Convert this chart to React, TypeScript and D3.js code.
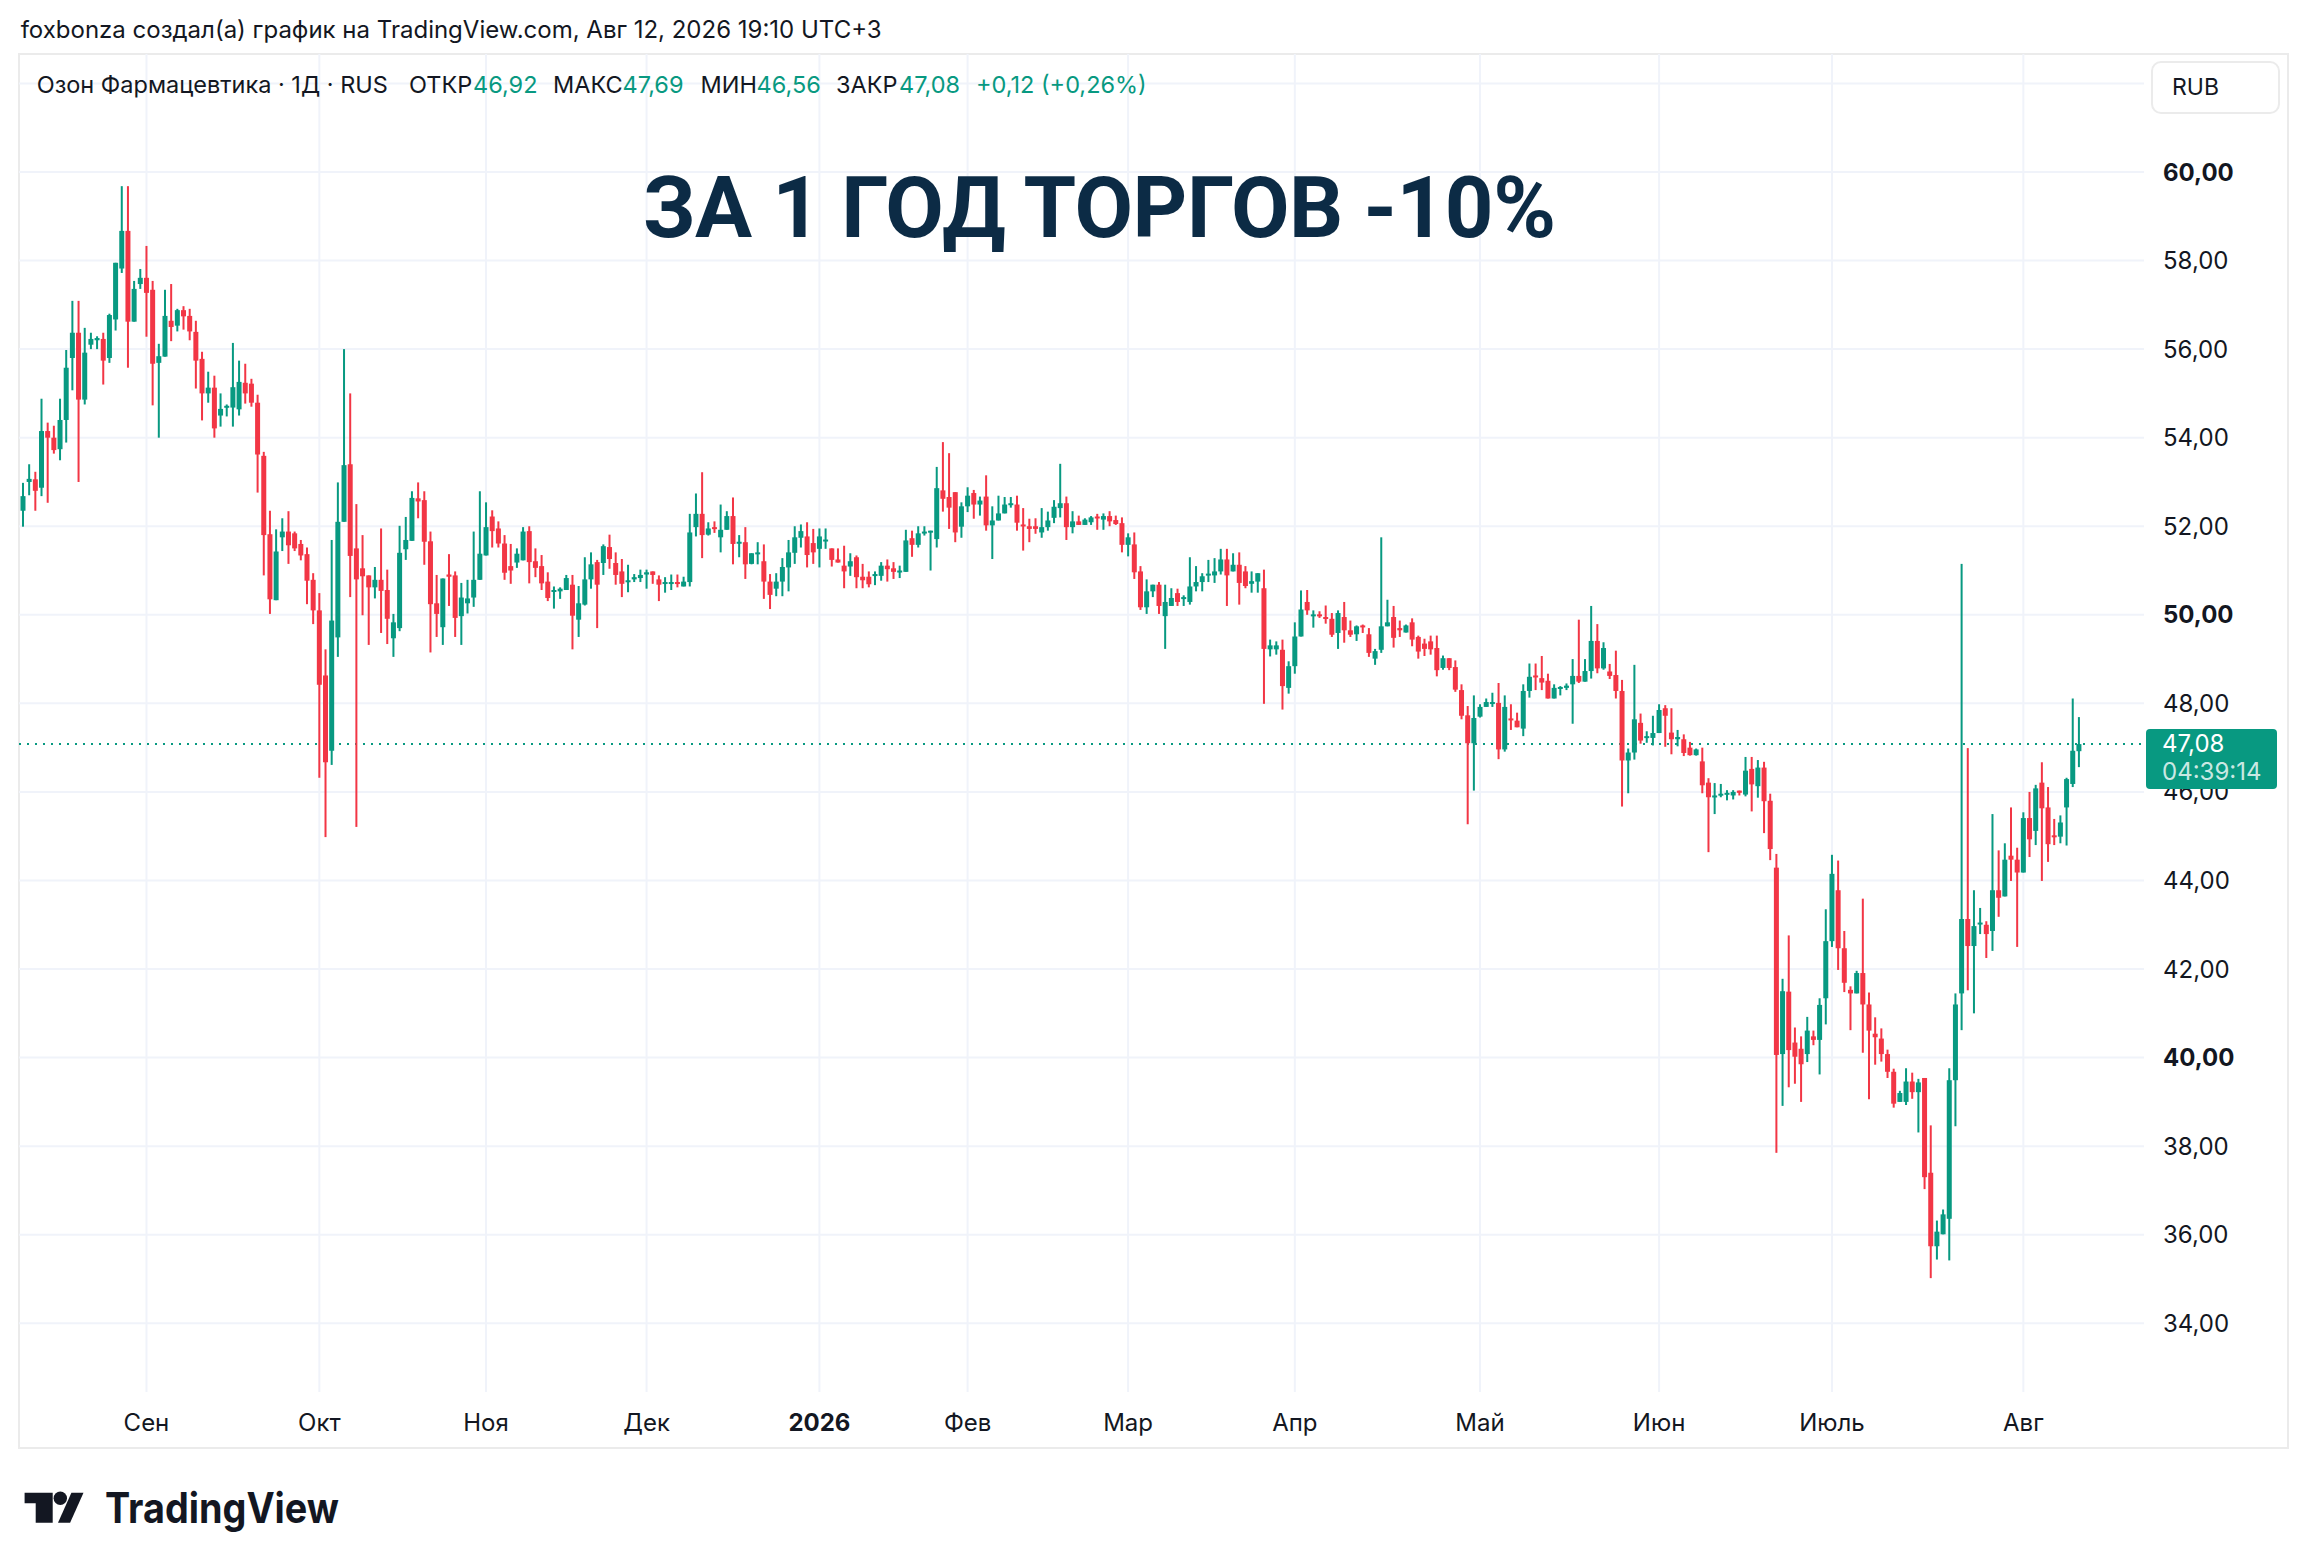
import React from 'react';
import * as d3 from 'd3';

// daily candles, Aug 2025 – Aug 2026
const opens = [
  52.35,53.0,53.06,52.87,54.15,54.0,53.74,54.4,55.8,56.37,
  54.86,56.1,56.2,56.23,55.8,56.67,57.82,58.67,56.62,57.47,
  57.61,57.34,55.69,55.83,56.64,56.53,56.88,56.75,56.39,55.78,
  55.0,55.13,54.5,54.68,54.68,54.64,55.24,55.22,54.79,53.59,
  51.82,50.33,51.75,51.88,51.84,51.6,51.37,50.79,50.1,48.63,
  46.93,49.49,52.1,53.4,51.5,51.05,50.89,50.62,50.79,50.56,
  49.47,49.7,51.48,51.67,52.63,52.59,51.66,50.26,49.72,50.91,
  50.89,49.97,50.26,50.39,50.79,51.34,52.22,51.95,51.61,51.1,
  51.18,51.23,51.89,51.21,51.1,50.75,50.53,50.53,50.56,50.68,
  49.89,50.23,50.8,51.19,51.17,51.53,51.17,50.98,50.74,50.8,
  50.83,50.91,50.98,50.8,50.7,50.7,50.74,50.64,50.74,51.98,
  52.28,51.81,51.98,51.75,51.92,52.23,51.62,51.64,51.15,51.39,
  51.21,50.75,50.59,50.75,51.07,51.4,51.74,51.77,51.62,51.49,
  51.66,51.5,51.25,51.11,51.09,51.3,50.86,50.86,50.88,50.88,
  51.11,51.05,50.97,50.97,51.73,51.58,51.85,51.88,51.71,52.81,
  52.66,52.77,51.99,52.45,52.75,52.49,52.67,52.02,52.13,52.29,
  52.49,52.49,52.04,52.0,52.0,51.86,51.98,52.19,52.41,52.52,
  51.98,52.11,52.03,52.09,52.22,52.15,52.23,52.14,52.07,51.58,
  51.59,50.98,50.17,50.53,50.68,49.97,50.2,50.49,50.36,50.29,
  50.64,50.74,50.89,50.89,50.98,51.25,50.98,51.13,50.98,50.7,
  50.75,50.6,49.22,49.22,49.21,48.35,48.84,49.51,50.29,49.98,
  50.01,49.95,49.91,49.59,49.95,49.65,49.56,49.76,49.56,49.01,
  49.21,49.74,49.95,49.7,49.6,49.83,49.5,49.35,49.4,49.25,
  48.8,49.02,48.82,48.3,47.73,47.1,47.7,47.92,48.0,48.01,
  46.96,47.66,47.61,47.43,48.28,48.63,48.57,48.51,48.11,48.35,
  48.35,48.43,48.62,48.49,48.73,49.41,48.79,48.72,48.64,48.28,
  46.71,46.89,47.56,47.22,47.22,47.33,47.89,47.34,47.19,47.19,
  47.0,46.83,46.69,46.21,45.9,45.92,45.96,45.92,46.03,45.94,
  46.52,46.13,46.55,45.8,44.29,40.08,41.49,40.34,40.2,40.08,
  40.48,40.4,41.34,42.63,43.78,42.47,41.53,41.45,41.91,41.2,
  40.54,40.43,40.08,39.68,39.0,39.0,39.46,39.22,39.54,37.4,
  35.74,36.01,36.36,39.49,41.45,43.13,42.52,43.02,43.0,42.86,
  43.78,43.64,44.56,44.47,44.18,45.41,45.12,46.21,45.65,45.02,
  44.99,45.65,46.18,46.92,
];

const highs = [
  52.98,53.4,53.23,54.88,54.34,54.27,54.88,55.98,57.09,57.09,
  56.48,56.37,56.29,56.37,56.8,57.95,59.68,59.68,57.54,57.81,
  58.33,57.54,56.12,57.34,57.47,56.91,56.97,56.91,56.64,55.94,
  55.49,55.4,55.0,54.75,56.14,55.74,55.67,55.33,54.97,53.68,
  52.35,51.93,52.18,52.34,51.88,51.69,51.52,50.94,50.49,49.22,
  51.69,52.99,56.0,55.0,52.5,51.8,50.89,51.08,51.95,51.02,
  50.02,52.01,52.21,52.79,52.99,52.79,51.88,50.9,50.82,51.37,
  50.98,50.72,50.79,51.88,52.79,52.54,52.36,52.11,51.8,51.6,
  51.5,51.98,52.0,51.5,51.35,50.96,50.64,50.62,50.9,50.9,
  50.65,51.3,51.41,51.24,51.59,51.81,51.41,51.26,51.13,50.92,
  51.02,51.02,50.98,50.89,50.85,50.91,50.91,50.86,52.28,52.74,
  53.22,52.09,52.11,52.49,52.34,52.65,51.8,51.98,51.39,51.64,
  51.59,50.92,50.94,51.28,51.69,52.0,52.04,52.09,51.94,51.95,
  51.95,51.5,51.5,51.56,51.39,51.34,51.15,50.98,50.98,51.19,
  51.25,51.19,51.11,51.92,51.9,52.0,52.0,51.9,53.34,53.9,
  53.65,52.77,52.54,52.88,52.82,52.67,53.15,52.45,52.69,52.66,
  52.66,52.69,52.41,52.17,52.18,52.41,52.33,52.59,53.41,52.67,
  52.34,52.24,52.18,52.23,52.28,52.29,52.34,52.24,52.2,51.84,
  51.86,51.1,50.8,50.68,50.74,50.68,50.6,50.59,50.44,51.3,
  51.1,50.94,51.24,51.28,51.49,51.49,51.39,51.41,51.1,50.98,
  50.94,51.02,49.44,49.4,49.44,48.95,49.83,50.55,50.56,50.1,
  50.08,50.21,50.04,50.1,50.29,49.87,49.76,49.78,49.7,49.23,
  51.75,50.34,50.2,49.87,49.78,49.92,49.53,49.46,49.53,49.53,
  49.08,49.02,48.97,48.43,47.94,48.18,47.98,48.11,48.24,48.46,
  48.18,47.98,47.79,48.43,48.9,48.9,49.07,48.67,48.43,48.39,
  48.45,49.0,49.89,49.0,50.2,49.79,49.38,48.89,49.19,48.53,
  46.98,48.87,47.77,47.37,47.72,47.98,47.96,47.89,47.4,47.3,
  47.13,46.98,47.0,46.31,46.2,46.18,46.04,46.04,46.03,46.79,
  46.79,46.72,46.68,45.96,44.6,41.78,42.76,40.68,40.48,40.92,
  40.61,41.34,43.35,44.58,44.45,42.86,41.61,41.96,43.59,41.47,
  40.91,40.66,40.18,39.75,39.25,39.76,39.66,39.52,39.54,38.47,
  36.32,36.57,39.76,41.45,51.15,46.99,43.78,43.38,43.08,45.5,
  44.68,44.84,45.65,44.74,45.54,46.0,46.16,46.67,46.11,45.39,
  45.47,46.32,48.11,47.69,
];

const lows = [
  51.99,52.7,52.35,52.68,52.53,53.64,53.49,53.89,55.07,53.0,
  54.75,56.0,56.0,55.2,55.69,56.42,57.72,55.58,56.62,57.36,
  56.28,54.73,54.0,55.83,56.18,56.4,56.44,56.2,55.11,54.39,
  54.79,54.0,54.25,54.48,54.25,54.5,54.77,54.7,52.76,50.89,
  50.02,50.33,51.44,51.15,51.44,51.23,50.24,49.79,46.32,44.98,
  46.61,49.05,52.1,50.4,45.21,49.99,49.32,50.37,49.59,49.34,
  49.05,49.63,51.24,51.67,52.18,51.13,49.15,49.5,49.32,50.2,
  49.5,49.32,50.03,50.18,50.79,51.34,51.52,51.52,50.79,50.7,
  51.06,51.23,50.71,50.85,50.56,50.31,50.14,50.36,50.56,49.22,
  49.5,50.21,50.59,49.7,50.9,51.04,50.68,50.4,50.51,50.74,
  50.74,50.59,50.7,50.31,50.5,50.56,50.62,50.64,50.64,51.77,
  51.28,51.79,51.85,51.41,51.92,51.14,51.3,50.81,51.14,51.14,
  50.36,50.13,50.42,50.42,50.53,51.15,51.52,51.07,51.15,51.07,
  51.49,51.09,51.18,50.6,50.88,50.6,50.6,50.62,50.67,50.77,
  50.75,50.81,50.83,50.97,51.31,51.52,51.79,51.0,51.52,52.33,
  51.94,51.64,51.74,52.32,52.17,52.24,51.9,51.26,52.13,52.29,
  52.42,51.9,51.45,51.64,51.83,51.74,51.9,52.07,52.2,51.69,
  51.84,52.03,52.03,52.03,51.92,51.92,52.0,52.03,51.41,51.32,
  50.81,50.11,50.02,50.4,50.02,49.23,50.2,50.2,50.2,50.23,
  50.53,50.53,50.74,50.72,50.91,50.2,50.98,50.23,50.6,50.5,
  50.5,47.99,49.06,49.1,47.86,48.22,48.67,49.51,50.0,49.71,
  49.93,49.8,49.5,49.23,49.37,49.5,49.41,49.59,49.05,48.87,
  49.14,49.74,49.26,49.5,49.6,49.29,49.01,49.07,49.1,48.61,
  48.76,48.75,48.26,47.64,45.27,46.03,47.68,47.92,47.92,46.74,
  46.91,47.4,47.46,47.26,48.13,48.3,48.3,48.11,48.11,48.18,
  48.3,47.54,48.46,48.49,48.56,48.68,48.76,48.55,48.11,45.67,
  45.97,46.73,47.09,47.11,47.05,47.33,47.02,46.85,47.03,46.81,
  46.82,46.82,45.97,44.64,45.5,45.88,45.81,45.83,45.92,45.9,
  45.56,45.87,45.07,44.46,37.85,38.91,39.33,39.41,39.0,39.9,
  40.28,39.62,40.75,42.5,41.98,41.48,40.62,41.45,40.11,39.06,
  39.84,39.91,39.54,38.87,39.0,38.93,39.07,38.31,37.03,35.02,
  35.44,36.01,35.42,38.45,40.62,41.52,41.0,42.79,42.25,42.41,
  43.18,43.64,43.99,42.5,44.18,44.53,44.8,43.99,44.42,44.8,
  44.84,44.79,46.11,46.56,
];

const closes = [
  52.68,53.07,52.8,54.15,54.0,53.72,54.4,55.58,56.37,54.86,
  55.92,56.23,56.25,55.74,56.77,57.95,58.67,56.62,57.36,57.61,
  57.27,55.67,55.84,56.75,56.5,56.88,56.74,56.4,55.74,55.0,
  55.13,54.21,54.65,54.72,55.14,55.26,55.0,54.79,53.62,51.8,
  50.35,51.43,51.88,51.57,51.5,51.34,50.77,50.1,48.42,46.67,
  49.87,52.1,53.38,51.33,50.8,50.87,50.62,50.79,50.54,49.91,
  49.83,51.4,51.69,52.64,52.56,51.65,50.24,50.02,50.82,50.86,
  49.93,50.39,50.37,50.79,51.38,51.98,51.89,51.61,50.95,51.0,
  51.38,51.88,51.19,51.06,50.71,50.38,50.56,50.59,50.83,49.98,
  50.26,50.8,51.14,50.68,51.55,51.26,50.9,50.7,50.78,50.85,
  50.9,50.96,50.9,50.68,50.74,50.74,50.7,50.75,51.86,52.28,
  51.8,51.95,51.94,51.92,52.23,51.6,51.65,51.14,51.39,51.41,
  50.75,50.45,50.75,51.08,51.41,51.75,51.89,51.35,51.41,51.77,
  51.7,51.24,51.18,50.98,51.21,50.85,50.78,50.69,50.92,51.11,
  51.03,50.97,51.0,51.68,51.58,51.84,51.88,51.9,52.86,52.62,
  52.42,51.86,52.45,52.69,52.49,52.58,52.02,52.13,52.29,52.49,
  52.52,52.08,52.02,51.94,51.94,51.98,52.13,52.44,52.52,51.98,
  52.11,52.03,52.15,52.2,52.19,52.23,52.11,52.05,51.58,51.75,
  50.96,50.17,50.53,50.68,50.2,50.29,50.38,50.29,50.4,50.64,
  50.74,50.87,50.93,50.98,51.25,50.89,51.13,50.72,50.65,50.76,
  50.94,49.23,49.31,49.31,48.39,48.84,49.51,50.12,50.1,50.01,
  49.98,49.92,49.55,50.04,49.65,49.55,49.74,49.74,49.14,49.18,
  49.74,49.83,49.48,49.65,49.76,49.44,49.17,49.23,49.22,48.75,
  49.02,48.8,48.31,47.72,47.1,47.67,47.92,48.03,48.03,46.96,
  47.92,47.62,47.46,48.28,48.6,48.6,48.47,48.11,48.35,48.37,
  48.4,48.62,48.49,48.73,49.41,48.79,49.25,48.62,48.28,46.71,
  46.89,47.64,47.16,47.26,47.33,47.85,47.72,47.19,47.24,46.88,
  46.83,46.96,46.15,45.88,45.92,45.96,45.98,46.0,45.98,46.48,
  46.17,46.55,45.79,44.71,40.06,41.5,40.17,40.02,39.85,40.61,
  40.4,41.19,42.63,44.15,42.47,41.69,41.45,41.91,41.2,40.61,
  40.46,40.08,39.68,38.96,39.2,39.46,39.22,39.44,37.3,35.74,
  36.07,36.46,39.49,41.2,43.13,42.52,42.97,43.05,42.79,43.78,
  43.61,44.47,44.47,44.18,45.41,44.93,46.08,45.63,44.82,44.99,
  45.31,46.29,46.93,47.08,
];

// first bar of each month on the time axis
const monthBars = [20, 48, 75, 101, 129, 153, 179, 206, 236, 265, 293, 324];
const monthLabels = ['Сен', 'Окт', 'Ноя', 'Дек', '2026', 'Фев', 'Мар', 'Апр', 'Май', 'Июн', 'Июль', 'Авг'];

const priceTicks = [34, 36, 38, 40, 42, 44, 46, 48, 50, 52, 54, 56, 58, 60];
const gridPrices = [34, 36, 38, 40, 42, 44, 46, 48, 50, 52, 54, 56, 58, 60, 62];

const lastPrice = 47.08;

const UP = '#089981';
const DOWN = '#f23645';
const TEXT = '#131722';
const GRID = '#f0f3fa';
const FONT = "Inter, 'Noto Sans', sans-serif";

const W = 2308;
const H = 1568;
const pane = { left: 19, right: 2144, top: 54, bottom: 1392 };

const fmt = (v: number) => v.toFixed(2).replace('.', ',');

export default function App() {
  const n = closes.length;
  const x = d3.scaleBand<number>().domain(d3.range(n)).range([19.9, 2082.0]).padding(0);
  const bw = x.bandwidth();
  const cx = (i: number) => (x(i) ?? 0) + bw / 2;
  const y = d3.scaleLinear().domain([34, 60]).range([1323.3, 172]);
  const bodyW = 5;

  return (
    <svg
      width={W}
      height={H}
      viewBox={`0 0 ${W} ${H}`}
      style={{ position: 'absolute', left: 0, top: 0, background: '#fff' }}
      fontFamily={FONT}
    >
      <rect x={0} y={0} width={W} height={H} fill="#fff" />

      {/* snapshot header */}
      <text x={20.7} y={37.5} fontSize={24} fill={TEXT}>
        foxbonza создал(а) график на TradingView.com, Авг 12, 2026 19:10 UTC+3
      </text>

      {/* frame */}
      <rect x={19} y={54} width={2269} height={1394} fill="none" stroke="#ebebeb" strokeWidth={2} />

      {/* grid */}
      <g stroke={GRID} strokeWidth={2}>
        {gridPrices.map((p) => (
          <line key={`h${p}`} x1={pane.left} x2={pane.right} y1={y(p)} y2={y(p)} />
        ))}
        {monthBars.map((b) => (
          <line key={`v${b}`} x1={cx(b)} x2={cx(b)} y1={pane.top} y2={pane.bottom} />
        ))}
      </g>

      {/* legend */}
      <g fontSize={23.5} fill={TEXT}>
        <text x={36.7} y={93}>Озон Фармацевтика · 1Д · RUS</text>
        <text x={409} y={93}>ОТКР</text>
        <text x={473} y={93} fill={UP}>{fmt(opens[n - 1])}</text>
        <text x={553} y={93}>МАКС</text>
        <text x={622.6} y={93} fill={UP}>{fmt(highs[n - 1])}</text>
        <text x={700.6} y={93}>МИН</text>
        <text x={756.6} y={93} fill={UP}>{fmt(lows[n - 1])}</text>
        <text x={836} y={93}>ЗАКР</text>
        <text x={899} y={93} fill={UP}>{fmt(closes[n - 1])}</text>
        <text x={976} y={93} fill={UP}>+0,12 (+0,26%)</text>
      </g>

      {/* title */}
      <text
        x={1099.5}
        y={237}
        fontSize={85}
        fontWeight={700}
        fontFamily="Roboto, Inter, sans-serif"
        fill="#0c2b45"
        textAnchor="middle"
        textLength={913}
        lengthAdjust="spacing"
      >
        ЗА 1 ГОД ТОРГОВ -10%
      </text>

      {/* last price line */}
      <line
        x1={pane.left}
        x2={pane.right}
        y1={y(lastPrice)}
        y2={y(lastPrice)}
        stroke={UP}
        strokeWidth={2}
        strokeDasharray="2 6"
      />

      {/* candles */}
      <g>
        {closes.map((c, i) => {
          const o = opens[i];
          const col = c >= o ? UP : DOWN;
          const top = y(Math.max(o, c));
          const bot = y(Math.min(o, c));
          return (
            <g key={i} fill={col}>
              <rect x={cx(i) - 1} y={y(highs[i])} width={2} height={Math.max(2, y(lows[i]) - y(highs[i]))} />
              <rect x={cx(i) - bodyW / 2} y={top} width={bodyW} height={Math.max(2, bot - top)} />
            </g>
          );
        })}
      </g>

      {/* price scale */}
      <g fontSize={24} fill={TEXT}>
        {priceTicks.map((p) => (
          <text key={p} x={2163} y={y(p) + 8.5} fontWeight={p % 10 === 0 ? 700 : 400}>
            {fmt(p)}
          </text>
        ))}
      </g>

      <rect x={2152} y={62} width={127} height={51} rx={9} fill="#fff" stroke="#ebebeb" strokeWidth={2} />
      <text x={2172} y={95} fontSize={23} fill={TEXT}>RUB</text>

      {/* last price tag */}
      <rect x={2146} y={y(lastPrice) - 15} width={131} height={60} rx={4} fill={UP} />
      <text x={2162} y={y(lastPrice) + 8} fontSize={24} fill="#fff">{fmt(lastPrice)}</text>
      <text x={2162} y={y(lastPrice) + 36} fontSize={24} fill="rgba(255,255,255,0.8)">04:39:14</text>

      {/* time scale */}
      <g fontSize={24} fill={TEXT} textAnchor="middle">
        {monthBars.map((b, k) => (
          <text key={b} x={cx(b)} y={1431} fontWeight={monthLabels[k] === '2026' ? 700 : 400}>
            {monthLabels[k]}
          </text>
        ))}
      </g>

      {/* TradingView logo */}
      <g fill={TEXT}>
        <path d="M24.6 1492.7 H52.7 V1522.7 H35.7 V1503.3 H24.6 Z" />
        <circle cx={60.3} cy={1498.3} r={6.7} />
        <path d="M71.4 1492.7 H83.5 L70.1 1522.7 H58 Z" />
        <text
          x={105}
          y={1522.7}
          fontSize={42}
          fontWeight={700}
          textLength={234}
          lengthAdjust="spacingAndGlyphs"
        >
          TradingView
        </text>
      </g>
    </svg>
  );
}
